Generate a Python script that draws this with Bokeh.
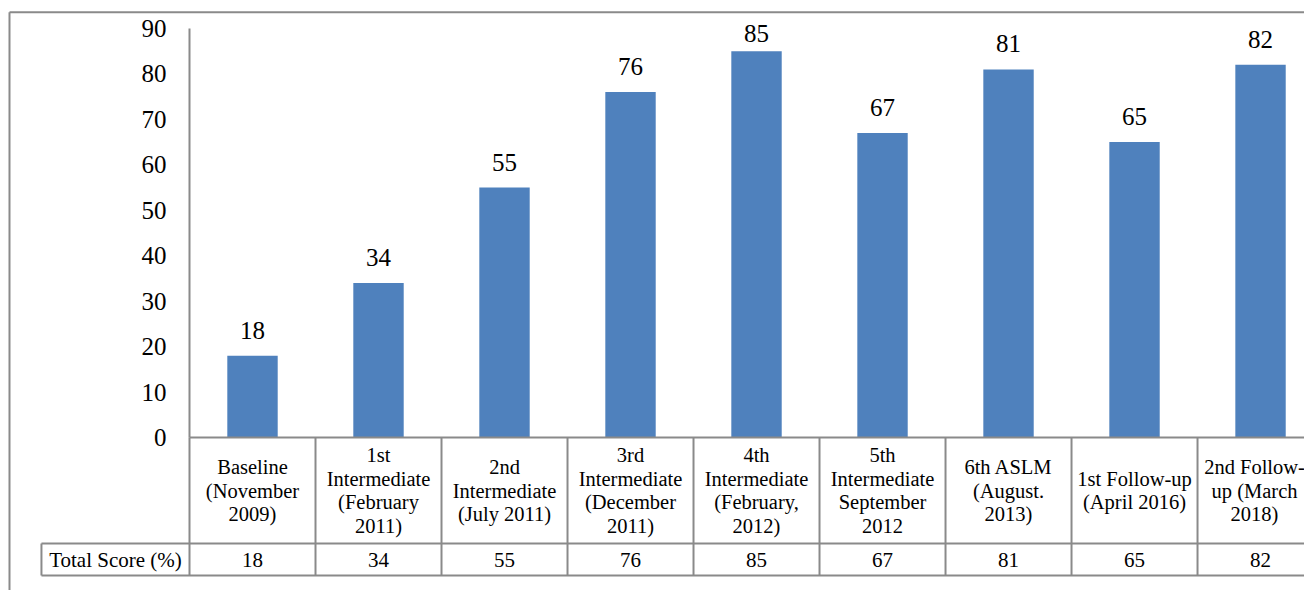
import numpy as np
from bokeh.plotting import figure
from bokeh.models import Range1d, LinearAxis, FixedTicker, ColumnDataSource
from bokeh.core.properties import value
from bokeh.embed import file_html
from bokeh.resources import INLINE

# ---- data ----
categories = [
    "Baseline\n(November\n2009)",
    "1st\nIntermediate\n(February\n2011)",
    "2nd\nIntermediate\n(July 2011)",
    "3rd\nIntermediate\n(December\n2011)",
    "4th\nIntermediate\n(February,\n2012)",
    "5th\nIntermediate\nSeptember\n2012",
    "6th ASLM\n(August.\n2013)",
    "1st Follow-up\n(April 2016)",
    "2nd Follow-\nup (March\n2018)",
]
scores = [18, 34, 55, 76, 85, 67, 81, 65, 82]
y_ticks = [0, 10, 20, 30, 40, 50, 60, 70, 80, 90]
row_label = "Total Score (%)"

# ---- layout constants ----
FONT = "Liberation Serif"
GRID = "#8a8a8a"
BAR = "#4F81BD"
n = len(scores)
centers = np.arange(n) + 0.5
vals = np.array(scores, dtype=float)

header_bottom = -23.35
table_bottom = -30.37
row_left = -1.175
frame_left = -1.4286
frame_top = 93.59
label_y = np.minimum(vals + 5.6, 88.9)
cat_dx = [0] * (n - 1) + [-6]   # keep the last, edge-cut label inside the canvas

p = figure(width=1304, height=590, output_backend="svg", toolbar_location=None,
           x_range=Range1d(-1.5, 8.849), y_range=Range1d(-33.67, 96.16),
           x_axis_type=None, y_axis_type=None, min_border=0,
           background_fill_color="white", border_fill_color="white")
p.outline_line_color = None
p.grid.visible = False

# outer chart border (left and top edges; right/bottom are outside the view)
p.segment(x0=[frame_left, frame_left], y0=[frame_top, frame_top],
          x1=[n + 1, frame_left], y1=[frame_top, -40],
          line_color=GRID, line_width=2)

# bars
src = ColumnDataSource(dict(x=centers, top=vals, ly=label_y,
                            lab=[str(s) for s in scores], cat=categories, dx=cat_dx))
p.vbar(x="x", top="top", bottom=0, width=0.4, source=src, fill_color=BAR, line_color=None)

# data labels
p.text(x="x", y="ly", text="lab", source=src, text_align="center", text_baseline="middle",
       text_font=value(FONT), text_font_size="25px", text_color="black")

# y axis
ax = LinearAxis(fixed_location=0, ticker=FixedTicker(ticks=y_ticks), bounds=(0, 90))
ax.axis_line_color = GRID
ax.axis_line_width = 2
ax.major_tick_in = 0
ax.major_tick_out = 0
ax.minor_tick_in = 0
ax.minor_tick_out = 0
ax.major_label_standoff = 23
ax.major_label_text_font = FONT
ax.major_label_text_font_size = "25px"
ax.major_label_text_color = "black"
p.add_layout(ax, "left")

# data table lines
edges = np.arange(n + 1, dtype=float)
p.segment(x0=edges, y0=np.zeros(n + 1), x1=edges, y1=np.full(n + 1, table_bottom),
          line_color=GRID, line_width=2)
p.segment(x0=[0, row_left, row_left, row_left], y0=[0, header_bottom, table_bottom, header_bottom],
          x1=[n, n, n, row_left], y1=[0, header_bottom, table_bottom, table_bottom],
          line_color=GRID, line_width=2)

# category labels
p.text(x="x", y=header_bottom / 2, text="cat", x_offset="dx", source=src, text_align="center",
       text_baseline="middle", text_font=value(FONT), text_font_size="20.5px",
       text_line_height=1.08, text_color="black")

# value row
p.text(x="x", y=(header_bottom + table_bottom) / 2, text="lab", source=src,
       text_align="center", text_baseline="middle", text_font=value(FONT),
       text_font_size="21px", text_color="black")
p.text(x=[row_left / 2], y=[(header_bottom + table_bottom) / 2], text=[row_label],
       text_align="center", text_baseline="middle", text_font=value(FONT),
       text_font_size="21px", text_color="black")

open("out.html", "w").write(file_html(p, INLINE))
